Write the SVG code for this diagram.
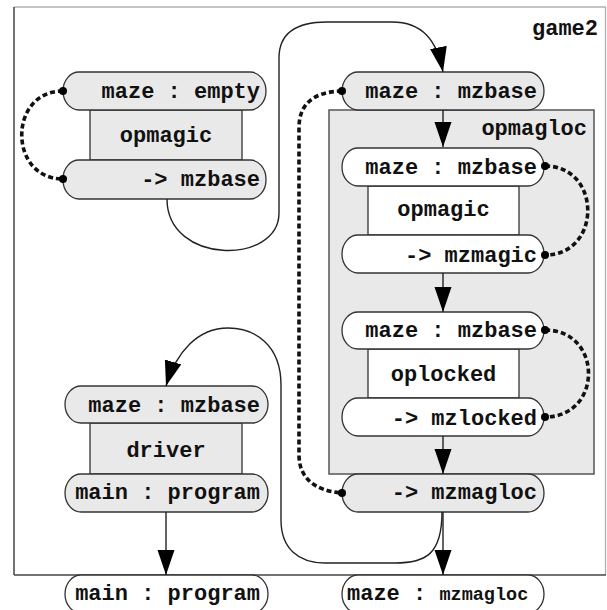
<svg xmlns="http://www.w3.org/2000/svg" width="607" height="610" viewBox="0 0 607 610">
  <style>
    .lbl { font-family: "Liberation Mono", "Courier New", monospace; font-weight: bold; font-size: 22px; fill: #111; }
    .end { text-anchor: end; }
    .mid { text-anchor: middle; }
    .pill { stroke: #333; stroke-width: 1.3; }
    .box { stroke: #333; stroke-width: 1.3; }
    .grey { fill: #e9e9e9; }
    .white { fill: #ffffff; }
    .flow { fill: none; stroke: #222; stroke-width: 1.4; }
    .link { fill: none; stroke: #111; stroke-width: 3.6; stroke-dasharray: 5 3; }
    .dot { fill: #000; }
  </style>
  <defs>
    <marker id="arrow" markerUnits="userSpaceOnUse" markerWidth="26" markerHeight="18" refX="25" refY="8.5" orient="auto">
      <path d="M0,0 L25,8.5 L0,17 z" fill="#000"/>
    </marker>
  </defs>

  <rect width="607" height="610" fill="#fff"/>

  <!-- outer component frame -->
  <g id="game2">
    <line x1="14" y1="7" x2="606" y2="7" stroke="#b0b0b0" stroke-width="1.3"/>
    <line x1="605.5" y1="7" x2="605.5" y2="575" stroke="#b0b0b0" stroke-width="1.3"/>
    <line x1="14" y1="7" x2="14" y2="575" stroke="#444" stroke-width="1.5"/>
    <line x1="14" y1="575" x2="606" y2="575" stroke="#444" stroke-width="1.5"/>
    <text class="lbl end" x="598" y="35">game2</text>
  </g>

  <!-- opmagic (left) -->
  <g id="opmagic-left">
    <rect class="box grey" x="90" y="110" width="152" height="50"/>
    <rect class="pill grey" x="63" y="72" width="203" height="38" rx="16" ry="19"/>
    <rect class="pill grey" x="63" y="160" width="203" height="39" rx="16" ry="19"/>
    <text class="lbl end" x="260" y="98">maze : empty</text>
    <text class="lbl mid" x="166" y="142">opmagic</text>
    <text class="lbl end" x="260" y="186">-&gt; mzbase</text>
  </g>

  <!-- opmagloc composite -->
  <g id="opmagloc">
    <rect x="329" y="110" width="265" height="364" fill="#e9e9e9" stroke="#555" stroke-width="1.5"/>
    <rect class="pill grey" x="342" y="72" width="202" height="38" rx="16" ry="19"/>
    <text class="lbl end" x="537" y="98">maze : mzbase</text>
    <text class="lbl end" x="587" y="135">opmagloc</text>
    <rect class="pill grey" x="342" y="474" width="202" height="38" rx="16" ry="19"/>
    <text class="lbl end" x="537" y="499">-&gt; mzmagloc</text>
  </g>

  <!-- opmagic (inner) -->
  <g id="opmagic-inner">
    <rect class="box white" x="368" y="186" width="151" height="49"/>
    <rect class="pill white" x="342" y="148" width="202" height="38" rx="16" ry="19"/>
    <rect class="pill white" x="342" y="235" width="202" height="38" rx="16" ry="19"/>
    <text class="lbl end" x="537" y="174">maze : mzbase</text>
    <text class="lbl mid" x="443.5" y="216">opmagic</text>
    <text class="lbl end" x="537" y="262">-&gt; mzmagic</text>
  </g>

  <!-- oplocked -->
  <g id="oplocked">
    <rect class="box white" x="368" y="349" width="151" height="49"/>
    <rect class="pill white" x="342" y="312" width="202" height="37" rx="16" ry="18.5"/>
    <rect class="pill white" x="342" y="398" width="202" height="38" rx="16" ry="19"/>
    <text class="lbl end" x="537" y="337">maze : mzbase</text>
    <text class="lbl mid" x="443.5" y="381">oplocked</text>
    <text class="lbl end" x="537" y="425">-&gt; mzlocked</text>
  </g>

  <!-- driver -->
  <g id="driver">
    <rect class="box grey" x="90" y="423" width="152" height="51"/>
    <rect class="pill grey" x="65" y="386" width="203" height="37" rx="16" ry="18.5"/>
    <rect class="pill grey" x="65" y="474" width="203" height="38" rx="16" ry="19"/>
    <text class="lbl end" x="260" y="412">maze : mzbase</text>
    <text class="lbl mid" x="166" y="457">driver</text>
    <text class="lbl end" x="260" y="499">main : program</text>
  </g>

  <!-- outputs below the frame -->
  <g id="out-main">
    <rect class="pill white" x="65" y="575" width="203" height="38" rx="16" ry="19"/>
    <text class="lbl end" x="260" y="600">main : program</text>
  </g>
  <g id="out-maze">
    <rect class="pill white" x="342" y="575" width="202" height="38" rx="16" ry="19"/>
    <text class="lbl" x="347" y="600">maze : <tspan font-size="18.5px">mzmagloc</tspan></text>
  </g>

  <!-- connectors -->
  <g id="connectors">
    <line class="flow" x1="443" y1="110" x2="443" y2="147" marker-end="url(#arrow)"/>
    <line class="flow" x1="443" y1="273" x2="443" y2="312" marker-end="url(#arrow)"/>
    <line class="flow" x1="443" y1="436" x2="443" y2="474" marker-end="url(#arrow)"/>
    <line class="flow" x1="443" y1="512" x2="443" y2="575" marker-end="url(#arrow)"/>
    <line class="flow" x1="166" y1="512" x2="166" y2="575" marker-end="url(#arrow)"/>
    <path class="flow" d="M167,199 C167,265 279,265 279,213 L279,58 C279,32 298,22 327,22 L392,22 C422,22 437,40 443,72" marker-end="url(#arrow)"/>
    <path class="flow" d="M442,512 C442,555 425,563 395,563 L325,563 C298,563 281,548 281,520 L281,385 C281,345 255,328 228,328 C198,328 176,352 166,386" marker-end="url(#arrow)"/>

    <path class="link" d="M63,91 C8,91 8,179 63,179"/>
    <path class="link" d="M342,91 C312,92 299,105 299,128 L299,455 C299,478 315,491 342,493"/>
    <path class="link" d="M545,166 C602,166 602,255 545,255"/>
    <path class="link" d="M545,330 C603,330 603,417 545,417"/>

    <circle class="dot" cx="63" cy="91" r="4"/>
    <circle class="dot" cx="63" cy="179" r="4"/>
    <circle class="dot" cx="342" cy="91" r="4"/>
    <circle class="dot" cx="342" cy="493" r="4"/>
    <circle class="dot" cx="545" cy="166" r="4"/>
    <circle class="dot" cx="545" cy="255" r="4"/>
    <circle class="dot" cx="545" cy="330" r="4"/>
    <circle class="dot" cx="545" cy="417" r="4"/>
  </g>
</svg>
